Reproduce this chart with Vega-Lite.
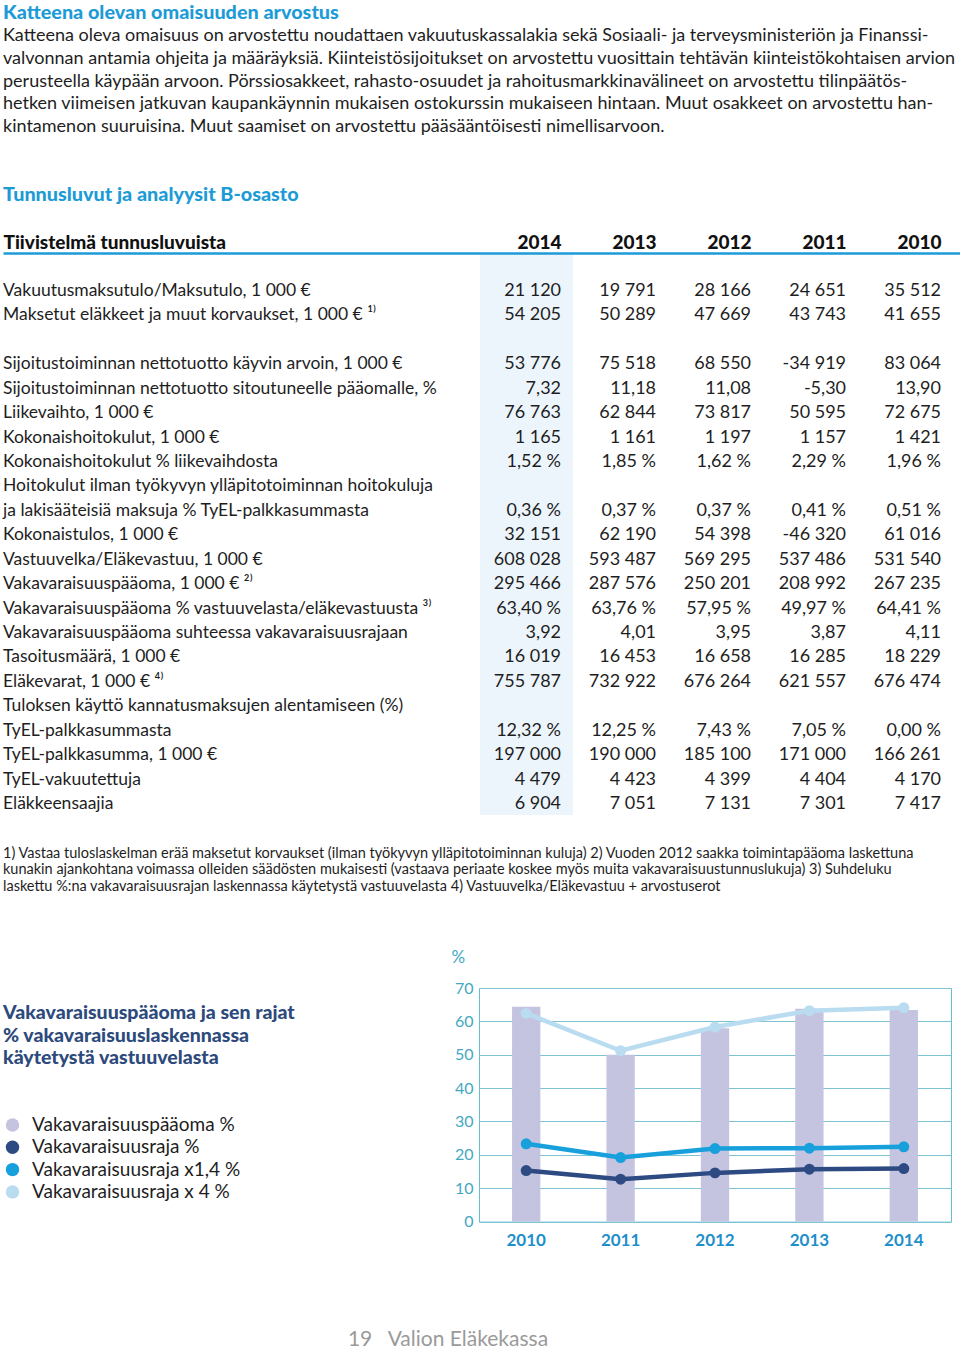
{
  "$schema": "https://vega.github.io/schema/vega-lite/v6.json",
  "background": "white",
  "padding": {"left": 3, "top": 0, "right": 0, "bottom": 0},
  "spacing": 0,
  "config": {
    "view": {"stroke": null},
    "font": "Lato",
    "text": {"font": "Lato"}
  },
  "resolve": {"scale": {"color": "independent"}, "legend": {"color": "independent"}},
  "datasets": {
    "otsikot": [
      {"rivi": 0, "teksti": "Katteena olevan omaisuuden arvostus"},
      {"rivi": 8, "teksti": "Tunnusluvut ja analyysit B-osasto"}
    ],
    "kappale": [
      {"rivi": 1, "teksti": "Katteena oleva omaisuus on arvostettu noudattaen vakuutuskassalakia sekä Sosiaali- ja terveysministeriön ja Finanssi-"},
      {"rivi": 2, "teksti": "valvonnan antamia ohjeita ja määräyksiä. Kiinteistösijoitukset on arvostettu vuosittain tehtävän kiinteistökohtaisen arvion"},
      {"rivi": 3, "teksti": "perusteella käypään arvoon. Pörssiosakkeet, rahasto-osuudet ja rahoitusmarkkinavälineet on arvostettu tilinpäätös-"},
      {"rivi": 4, "teksti": "hetken viimeisen jatkuvan kaupankäynnin mukaisen ostokurssin mukaiseen hintaan. Muut osakkeet on arvostettu han-"},
      {"rivi": 5, "teksti": "kintamenon suuruisina. Muut saamiset on arvostettu pääsääntöisesti nimellisarvoon."}
    ],
    "korostus": [{"vuosi": 2014}],
    "taulukko": [
      {"rivi": 1, "tunnusluku": "Vakuutusmaksutulo/Maksutulo, 1 000 €", "2014": "21 120", "2013": "19 791", "2012": "28 166", "2011": "24 651", "2010": "35 512"},
      {"rivi": 2, "tunnusluku": "Maksetut eläkkeet ja muut korvaukset, 1 000 € ¹⁾", "2014": "54 205", "2013": "50 289", "2012": "47 669", "2011": "43 743", "2010": "41 655"},
      {"rivi": 4, "tunnusluku": "Sijoitustoiminnan nettotuotto käyvin arvoin, 1 000 €", "2014": "53 776", "2013": "75 518", "2012": "68 550", "2011": "-34 919", "2010": "83 064"},
      {"rivi": 5, "tunnusluku": "Sijoitustoiminnan nettotuotto sitoutuneelle pääomalle, %", "2014": "7,32", "2013": "11,18", "2012": "11,08", "2011": "-5,30", "2010": "13,90"},
      {"rivi": 6, "tunnusluku": "Liikevaihto, 1 000 €", "2014": "76 763", "2013": "62 844", "2012": "73 817", "2011": "50 595", "2010": "72 675"},
      {"rivi": 7, "tunnusluku": "Kokonaishoitokulut, 1 000 €", "2014": "1 165", "2013": "1 161", "2012": "1 197", "2011": "1 157", "2010": "1 421"},
      {"rivi": 8, "tunnusluku": "Kokonaishoitokulut % liikevaihdosta", "2014": "1,52 %", "2013": "1,85 %", "2012": "1,62 %", "2011": "2,29 %", "2010": "1,96 %"},
      {"rivi": 9, "tunnusluku": "Hoitokulut ilman työkyvyn ylläpitotoiminnan hoitokuluja"},
      {"rivi": 10, "tunnusluku": "ja lakisääteisiä maksuja % TyEL-palkkasummasta", "2014": "0,36 %", "2013": "0,37 %", "2012": "0,37 %", "2011": "0,41 %", "2010": "0,51 %"},
      {"rivi": 11, "tunnusluku": "Kokonaistulos, 1 000 €", "2014": "32 151", "2013": "62 190", "2012": "54 398", "2011": "-46 320", "2010": "61 016"},
      {"rivi": 12, "tunnusluku": "Vastuuvelka/Eläkevastuu, 1 000 €", "2014": "608 028", "2013": "593 487", "2012": "569 295", "2011": "537 486", "2010": "531 540"},
      {"rivi": 13, "tunnusluku": "Vakavaraisuuspääoma, 1 000 € ²⁾", "2014": "295 466", "2013": "287 576", "2012": "250 201", "2011": "208 992", "2010": "267 235"},
      {"rivi": 14, "tunnusluku": "Vakavaraisuuspääoma % vastuuvelasta/eläkevastuusta ³⁾", "2014": "63,40 %", "2013": "63,76 %", "2012": "57,95 %", "2011": "49,97 %", "2010": "64,41 %"},
      {"rivi": 15, "tunnusluku": "Vakavaraisuuspääoma suhteessa vakavaraisuusrajaan", "2014": "3,92", "2013": "4,01", "2012": "3,95", "2011": "3,87", "2010": "4,11"},
      {"rivi": 16, "tunnusluku": "Tasoitusmäärä, 1 000 €", "2014": "16 019", "2013": "16 453", "2012": "16 658", "2011": "16 285", "2010": "18 229"},
      {"rivi": 17, "tunnusluku": "Eläkevarat, 1 000 € ⁴⁾", "2014": "755 787", "2013": "732 922", "2012": "676 264", "2011": "621 557", "2010": "676 474"},
      {"rivi": 18, "tunnusluku": "Tuloksen käyttö kannatusmaksujen alentamiseen (%)"},
      {"rivi": 19, "tunnusluku": "TyEL-palkkasummasta", "2014": "12,32 %", "2013": "12,25 %", "2012": "7,43 %", "2011": "7,05 %", "2010": "0,00 %"},
      {"rivi": 20, "tunnusluku": "TyEL-palkkasumma, 1 000 €", "2014": "197 000", "2013": "190 000", "2012": "185 100", "2011": "171 000", "2010": "166 261"},
      {"rivi": 21, "tunnusluku": "TyEL-vakuutettuja", "2014": "4 479", "2013": "4 423", "2012": "4 399", "2011": "4 404", "2010": "4 170"},
      {"rivi": 22, "tunnusluku": "Eläkkeensaajia", "2014": "6 904", "2013": "7 051", "2012": "7 131", "2011": "7 301", "2010": "7 417"}
    ],
    "alaviitteet": [
      {"rivi": 1, "teksti": "1) Vastaa tuloslaskelman erää maksetut korvaukset (ilman työkyvyn ylläpitotoiminnan kuluja) 2) Vuoden 2012 saakka toimintapääoma laskettuna"},
      {"rivi": 2, "teksti": "kunakin ajankohtana voimassa olleiden säädösten mukaisesti (vastaava periaate koskee myös muita vakavaraisuustunnuslukuja) 3) Suhdeluku"},
      {"rivi": 3, "teksti": "laskettu %:na vakavaraisuusrajan laskennassa käytetystä vastuuvelasta 4) Vastuuvelka/Eläkevastuu + arvostuserot"}
    ],
    "kaavion_otsikko": [
      {"rivi": 1, "teksti": "Vakavaraisuuspääoma ja sen rajat"},
      {"rivi": 2, "teksti": "% vakavaraisuuslaskennassa"},
      {"rivi": 3, "teksti": "käytetystä vastuuvelasta"}
    ],
    "pylvaat": [
      {"vuosi": "2010", "sarja": "Vakavaraisuuspääoma %", "arvo": 64.41},
      {"vuosi": "2011", "sarja": "Vakavaraisuuspääoma %", "arvo": 49.97},
      {"vuosi": "2012", "sarja": "Vakavaraisuuspääoma %", "arvo": 57.95},
      {"vuosi": "2013", "sarja": "Vakavaraisuuspääoma %", "arvo": 63.76},
      {"vuosi": "2014", "sarja": "Vakavaraisuuspääoma %", "arvo": 63.40}
    ],
    "viivat": [
      {"vuosi": "2010", "sarja": "Vakavaraisuusraja x 4 %", "arvo": 62.4},
      {"vuosi": "2011", "sarja": "Vakavaraisuusraja x 4 %", "arvo": 51.2},
      {"vuosi": "2012", "sarja": "Vakavaraisuusraja x 4 %", "arvo": 58.3},
      {"vuosi": "2013", "sarja": "Vakavaraisuusraja x 4 %", "arvo": 63.2},
      {"vuosi": "2014", "sarja": "Vakavaraisuusraja x 4 %", "arvo": 64.1},
      {"vuosi": "2010", "sarja": "Vakavaraisuusraja x1,4 %", "arvo": 23.3},
      {"vuosi": "2011", "sarja": "Vakavaraisuusraja x1,4 %", "arvo": 19.2},
      {"vuosi": "2012", "sarja": "Vakavaraisuusraja x1,4 %", "arvo": 21.9},
      {"vuosi": "2013", "sarja": "Vakavaraisuusraja x1,4 %", "arvo": 22.0},
      {"vuosi": "2014", "sarja": "Vakavaraisuusraja x1,4 %", "arvo": 22.4},
      {"vuosi": "2010", "sarja": "Vakavaraisuusraja %", "arvo": 15.3},
      {"vuosi": "2011", "sarja": "Vakavaraisuusraja %", "arvo": 12.7},
      {"vuosi": "2012", "sarja": "Vakavaraisuusraja %", "arvo": 14.6},
      {"vuosi": "2013", "sarja": "Vakavaraisuusraja %", "arvo": 15.7},
      {"vuosi": "2014", "sarja": "Vakavaraisuusraja %", "arvo": 15.9}
    ],
    "alatunniste": [{"rivi": 1, "teksti": "19\u00a0\u00a0\u00a0Valion Eläkekassa"}]
  },
  "vconcat": [
    {
      "width": 957,
      "height": 232.5,
      "layer": [
        {
          "data": {"name": "otsikot"},
          "mark": {"type": "text", "align": "left", "baseline": "middle", "fontSize": 19.8, "fontWeight": 900, "color": "#1d9bd7"},
          "encoding": {
            "x": {"value": 0},
            "y": {"field": "rivi", "type": "quantitative", "scale": {"domain": [-0.5947, 9.6476], "reverse": true, "nice": false, "zero": false}, "axis": null},
            "text": {"field": "teksti"}
          }
        },
        {
          "data": {"name": "kappale"},
          "mark": {"type": "text", "align": "left", "baseline": "middle", "fontSize": 18, "color": "#1e1e1e"},
          "encoding": {
            "x": {"value": 0},
            "y": {"field": "rivi", "type": "quantitative", "axis": null},
            "text": {"field": "teksti"}
          }
        }
      ]
    },
    {
      "width": 957,
      "height": 562,
      "layer": [
        {
          "data": {"name": "korostus"},
          "mark": {"type": "tick", "orient": "vertical", "size": 562, "thickness": 93, "color": "#edf5fc", "opacity": 1},
          "encoding": {
            "x": {
              "field": "vuosi", "type": "quantitative",
              "scale": {"domain": [2009.437, 2019.511], "reverse": true, "nice": false, "zero": false},
              "axis": {
                "orient": "top", "zindex": 1,
                "values": [2014, 2013, 2012, 2011, 2010], "format": "d",
                "title": "Tiivistelmä tunnusluvuista", "titleX": 0, "titleY": -11, "titleAlign": "left", "titleAnchor": "start", "titleBaseline": "middle",
                "titleFont": "Lato", "titleFontSize": 19, "titleFontWeight": 900, "titleColor": "#111111",
                "labelFont": "Lato", "labelFontSize": 19, "labelFontWeight": 900, "labelColor": "#111111",
                "labelAlign": "right", "labelBaseline": "middle", "labelPadding": 11, "labelOffset": 34.5, "labelAngle": 0,
                "labelFlush": false, "labelOverlap": false,
                "ticks": false, "tickSize": 0, "grid": false,
                "domainColor": "#1d9bd7", "domainWidth": 2.5
              }
            }
          }
        },
        {
          "data": {"name": "taulukko"},
          "mark": {"type": "text", "align": "left", "baseline": "middle", "fontSize": 17.5, "color": "#1e1e1e"},
          "encoding": {
            "x": {"value": 0},
            "y": {"field": "rivi", "type": "quantitative", "scale": {"domain": [-0.5555, 22.4493], "reverse": true, "nice": false, "zero": false}, "axis": null},
            "text": {"field": "tunnusluku"}
          }
        },
        {
          "data": {"name": "taulukko"},
          "transform": [
            {"fold": ["2014", "2013", "2012", "2011", "2010"], "as": ["vuosi", "arvo"]},
            {"filter": "datum.arvo != null"}
          ],
          "mark": {"type": "text", "align": "right", "baseline": "middle", "fontSize": 18, "dx": 34.5, "color": "#1e1e1e"},
          "encoding": {
            "x": {"field": "vuosi", "type": "quantitative"},
            "y": {"field": "rivi", "type": "quantitative"},
            "text": {"field": "arvo"}
          }
        }
      ]
    },
    {
      "width": 957,
      "height": 131.5,
      "data": {"name": "alaviitteet"},
      "mark": {"type": "text", "align": "left", "baseline": "middle", "fontSize": 14.5, "color": "#1e1e1e"},
      "encoding": {
        "x": {"value": 0},
        "y": {"field": "rivi", "type": "quantitative", "scale": {"domain": [-1.3636, 6.6061], "reverse": true, "nice": false, "zero": false}, "axis": null},
        "text": {"field": "teksti"}
      }
    },
    {
      "spacing": 0,
      "hconcat": [
        {
          "width": 447,
          "height": 233.6,
          "data": {"name": "kaavion_otsikko"},
          "mark": {"type": "text", "align": "left", "baseline": "middle", "fontSize": 19.5, "fontWeight": 900, "color": "#2d4a7c"},
          "encoding": {
            "x": {"value": 0},
            "y": {"field": "rivi", "type": "quantitative", "scale": {"domain": [-0.1244, 10.258], "reverse": true, "nice": false, "zero": false}, "axis": null},
            "text": {"field": "teksti"}
          }
        },
        {
          "width": 472,
          "height": 233.6,
          "view": {"stroke": "#6cbcd0", "strokeWidth": 1},
          "encoding": {
            "x": {
              "field": "vuosi", "type": "ordinal",
              "scale": {"type": "band", "paddingInner": 0.7, "paddingOuter": 0.35},
              "axis": {
                "title": null, "domain": false, "ticks": false, "tickSize": 0, "grid": false,
                "labelPadding": 19, "labelBaseline": "middle", "labelAngle": 0,
                "labelFont": "Lato", "labelFontSize": 17, "labelFontWeight": "bold", "labelColor": "#1f8fcb"
              }
            },
            "y": {
              "field": "arvo", "type": "quantitative",
              "scale": {"domain": [0, 70], "nice": false},
              "axis": {
                "title": "%", "titleAngle": 0, "titleX": -28, "titleY": -30.7, "titleAlign": "left", "titleBaseline": "middle",
                "titleFont": "Lato", "titleFontSize": 17, "titleFontWeight": "normal", "titleColor": "#44a8c2",
                "values": [0, 10, 20, 30, 40, 50, 60, 70], "labelOverlap": false,
                "domain": false, "ticks": false, "tickSize": 0, "labelPadding": 6, "labelFlush": false, "labelBaseline": "middle",
                "labelFont": "Lato", "labelFontSize": 16, "labelColor": "#44a8c2",
                "grid": true, "gridColor": "#7cc4d4", "gridWidth": 1
              }
            },
            "color": {
              "field": "sarja", "type": "nominal",
              "scale": {
                "domain": ["Vakavaraisuuspääoma %", "Vakavaraisuusraja %", "Vakavaraisuusraja x1,4 %", "Vakavaraisuusraja x 4 %"],
                "range": ["#c4c4e0", "#2d4b82", "#18a0dc", "#b9dcf1"]
              },
              "legend": {
                "orient": "none", "legendX": 0, "legendY": 127.5, "direction": "vertical",
                "title": null,
                "symbolType": "circle", "symbolSize": 180, "symbolStrokeWidth": 0, "symbolOpacity": 1,
                "labelFont": "Lato", "labelFontSize": 19, "labelColor": "#1e1e1e", "labelOffset": 10,
                "rowPadding": 2.3, "labelLimit": 400
              }
            }
          },
          "layer": [
            {
              "data": {"name": "pylvaat"},
              "mark": {"type": "bar"}
            },
            {
              "data": {"name": "viivat"},
              "mark": {"type": "line", "strokeWidth": 4.5},
              "encoding": {
                "x": {"field": "vuosi", "type": "ordinal", "bandPosition": 0.5}
              }
            },
            {
              "data": {"name": "viivat"},
              "mark": {"type": "point", "filled": true, "size": 120, "opacity": 1},
              "encoding": {
                "x": {"field": "vuosi", "type": "ordinal", "bandPosition": 0.5}
              }
            }
          ]
        }
      ]
    },
    {
      "width": 890,
      "height": 95,
      "data": {"name": "alatunniste"},
      "mark": {"type": "text", "align": "center", "baseline": "middle", "fontSize": 21, "color": "#9a9a9a"},
      "encoding": {
        "y": {"field": "rivi", "type": "quantitative", "scale": {"domain": [0, 1.0556], "reverse": true, "nice": false, "zero": false}, "axis": null},
        "text": {"field": "teksti"}
      }
    }
  ]
}
